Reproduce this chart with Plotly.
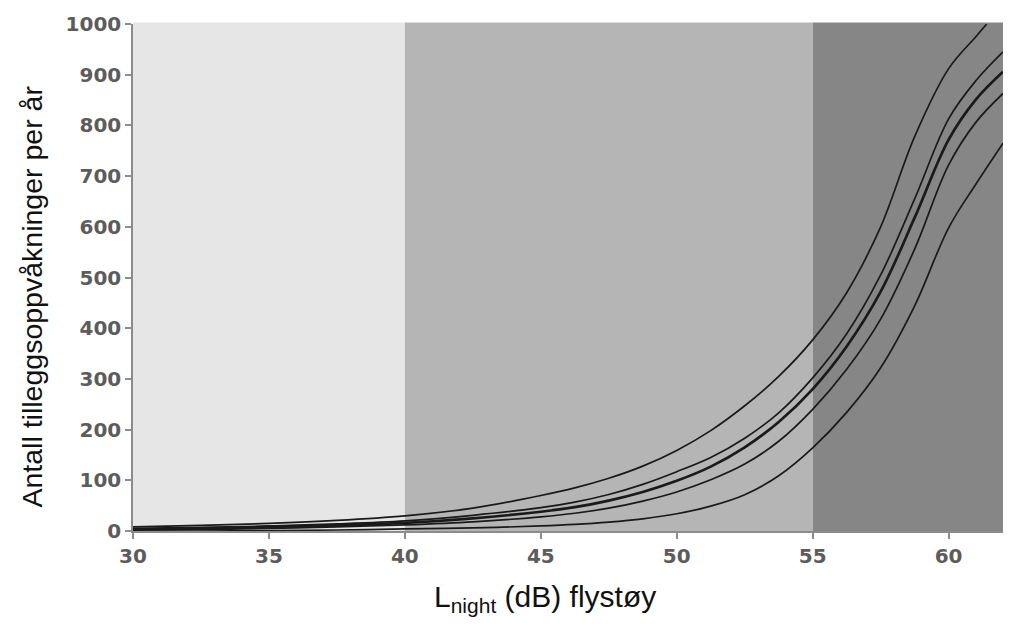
import plotly.graph_objects as go

# L_night (dB) sample positions
lnight = [30, 32.5, 35, 37.5, 40, 42.5, 45, 46.25, 47.5, 48.75, 50, 51.25, 52.5,
          53.75, 55, 56.25, 57.5, 58.75, 60, 61, 62]

# Five curves (upper bound -> lower bound), additional awakenings per year
upper     = [8, 11, 15, 21, 30, 45, 70, 85, 104, 128, 159, 198, 247,
             305, 377, 470, 600, 778, 912, 975, None]
upper_mid = [5, 7, 10, 14, 20, 31, 46, 57, 72, 92, 117, 145, 183,
             233, 302, 389, 505, 655, 813, 888, 945]
central   = [3, 5, 8, 11, 16, 25, 38, 47, 60, 77, 99, 127, 165,
             215, 280, 364, 472, 618, 772, 851, 906]
lower_mid = [2, 3, 5, 8, 12, 18, 28, 35, 45, 59, 77, 101, 132,
             177, 240, 319, 418, 556, 722, 806, 863]
lower     = [0, 0, 1, 2, 4, 6, 10, 13, 17.5, 24, 34, 49, 71.5,
             109, 164, 234, 322, 444, 598, 684, 765]

# the top curve reaches the axis top before 62 dB
upper_x = lnight[:-1] + [61.4]
upper_y = upper[:-1] + [1000]

# Background zones
zone_edges = [30, 40, 55, 62]
zone_colors = ["#e6e6e6", "#b5b5b5", "#868686"]

x_ticks = [30, 35, 40, 45, 50, 55, 60]
y_ticks = [0, 100, 200, 300, 400, 500, 600, 700, 800, 900, 1000]

fig = go.Figure()

series = [
    (upper_x, upper_y, 1.7),
    (lnight, upper_mid, 1.7),
    (lnight, central, 2.7),
    (lnight, lower_mid, 1.7),
    (lnight, lower, 1.7),
]
for xs, ys, w in series:
    fig.add_trace(go.Scatter(
        x=xs, y=ys, mode="lines",
        line=dict(color="#1a1a1a", width=w, shape="spline", smoothing=1.0),
        showlegend=False, hoverinfo="skip",
    ))

shapes = []
for i, col in enumerate(zone_colors):
    shapes.append(dict(
        type="rect", xref="x", yref="paper",
        x0=zone_edges[i], x1=zone_edges[i + 1], y0=0, y1=1.003,
        fillcolor=col, line=dict(width=0), layer="below",
    ))

tick_font = dict(family="DejaVu Sans", size=20, color="#5c5c5c", weight="bold")

annotations = [
    dict(text="L<sub>night</sub> (dB) flystøy", xref="paper", yref="paper",
         x=0.4736, y=-0.092, xanchor="center", yanchor="top", showarrow=False,
         font=dict(family="Liberation Sans", size=30, color="#111111")),
    dict(text="Antall tilleggsoppvåkninger per år", xref="paper", yref="paper",
         x=-0.1155, y=0.4615, xanchor="center", yanchor="middle", showarrow=False,
         textangle=-90,
         font=dict(family="Liberation Sans", size=28.5, color="#111111")),
]

fig.update_layout(
    width=1023, height=637,
    margin=dict(l=133, r=20, t=24, b=106),
    paper_bgcolor="white", plot_bgcolor="white",
    shapes=shapes,
    annotations=annotations,
    xaxis=dict(
        range=[30, 62], tickvals=x_ticks, ticktext=[str(v) for v in x_ticks],
        showgrid=False, zeroline=False,
        showline=True, linecolor="#8c8c8c", linewidth=1.5,
        ticks="outside", ticklen=6, tickcolor="#8c8c8c", tickwidth=1.5,
        tickfont=tick_font,
    ),
    yaxis=dict(
        range=[0, 1000], tickvals=y_ticks, ticktext=[str(v) for v in y_ticks],
        showgrid=False, zeroline=False,
        showline=True, linecolor="#8c8c8c", linewidth=1.5,
        ticks="outside", ticklen=6, tickcolor="#8c8c8c", tickwidth=1.5,
        tickfont=tick_font,
    ),
)

fig.write_html("out.html")
